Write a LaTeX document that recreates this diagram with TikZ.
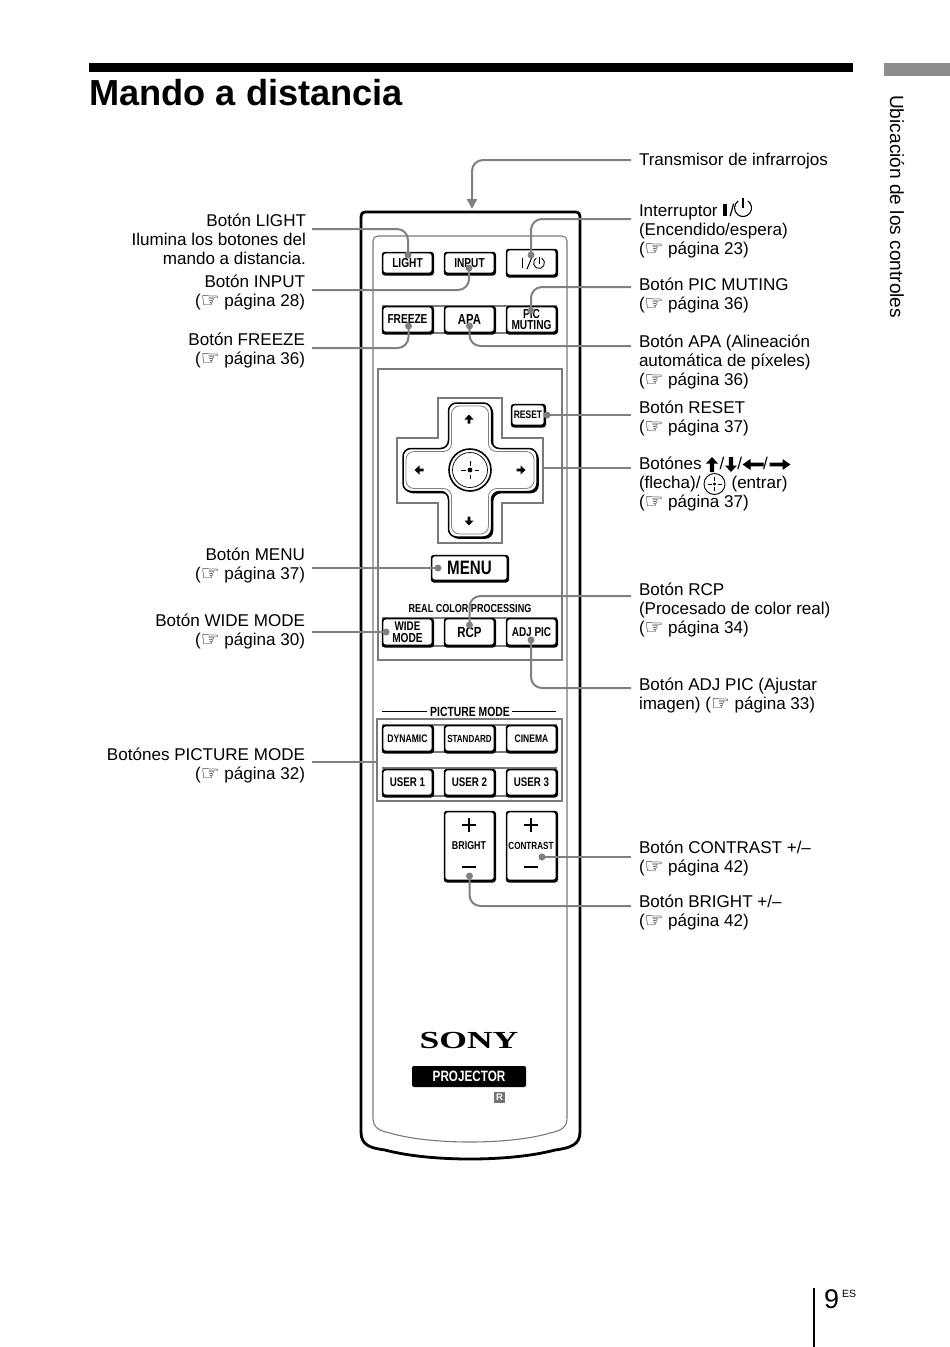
\documentclass[tikz,border=0pt]{standalone}
\usepackage{fontspec}
\setmainfont{Liberation Sans}
\newfontfamily\djvfont{DejaVu Sans}
\newfontfamily\condfont[FakeStretch=0.78]{Liberation Sans}
\newfontfamily\sonyfont[FakeStretch=1.45]{Liberation Serif}
\usetikzlibrary{arrows.meta}
\definecolor{conngray}{HTML}{808080}
\definecolor{linegray}{HTML}{7A7A7A}
\newcommand{\hand}{\smash{\raisebox{-1pt}{\djvfont\fontsize{21}{19}\selectfont ☞}}}
\newcommand{\bodyrule}{\rule{0pt}{14pt}}
\newcommand{\rbtn}[6]{%
  \fill[black,rounded corners=3] ({#2-0.2},{#3-0.2}) rectangle ({#4+1},{#5+1.5});
  \node[btn,minimum width={(#4-#2-1.4)*1pt},minimum height={(#5-#3-1.4)*1pt}] (#1) at ({(#2+#4)/2},{(#3+#5)/2}) {#6};}
\newcommand{\padarrow}[3]{\fill[shift={(#1,#2)},rotate=#3] (-4.5,0.5)--(0,-4.5)--(4.5,0.5)--(1.3,0.5)--(1.3,4.5)--(-1.3,4.5)--(-1.3,0.5)--cycle;}
\newcommand{\txtarrowv}[3]{\fill[shift={(#1,#2)},rotate=#3] (-6,-1)--(0,-7.5)--(6,-1)--(2.2,-1)--(2.2,7.5)--(-2.2,7.5)--(-2.2,-1)--cycle;}
\newcommand{\txtarrowh}[3]{\fill[shift={(#1,#2)},rotate=#3] (-5.5,-2.5)--(0,-10.5)--(5.5,-2.5)--(1.8,-2.5)--(1.8,10.5)--(-1.8,10.5)--(-1.8,-2.5)--cycle;}
\newcommand{\crossp}[2]{(-#1,-#2)--(#1,-#2)--(#1,-#1)--(#2,-#1)--(#2,#1)--(#1,#1)--(#1,#2)--(-#1,#2)--(-#1,#1)--(-#2,#1)--(-#2,-#1)--(-#1,-#1)--cycle}
\tikzset{
  lbl/.style={inner sep=0pt,outer sep=0pt,font=\fontsize{17.05}{19}\selectfont,execute at begin node=\bodyrule},
  rlabel/.style={lbl,anchor=north west,align=left},
  llabel/.style={lbl,anchor=north east,align=right},
  btn/.style={draw=black,line width=1.2pt,fill=white,rounded corners=3,inner sep=0pt,align=center,text=black,font=\condfont\bfseries\fontsize{13}{11.8}\selectfont},
  conn/.style={draw=conngray,line width=2pt,rounded corners=11},
  dot/.style={circle,fill=conngray,inner sep=0pt,minimum size=7pt},
  thin gray/.style={draw=linegray,line width=1.1pt},
  thick gray/.style={draw=linegray,line width=2.2pt},
}
\begin{document}
\begin{tikzpicture}[x=1pt,y=-1pt]
\useasboundingbox[fill=white] (0,0) rectangle (950,1347);
% page furniture
\fill[black] (89,63) rectangle (853,72);
\fill[black!45] (884,63) rectangle (950,76);
\node[inner sep=0,anchor=west,font=\bfseries\fontsize{36.2}{40}\selectfont] (title) at (89,93) {Mando a distancia};
\node[inner sep=0,rotate=-90,anchor=west,font=\fontsize{19.1}{20}\selectfont] (side) at (897,95) {Ubicación de los controles};
\draw[black,line width=1.2pt] (814,1288) -- (814,1347);
\node[inner sep=0,anchor=base west,font=\fontsize{27}{30}\selectfont] (pagenum) at (824,1308) {9};
\node[inner sep=0,anchor=base west,font=\fontsize{10.5}{12}\selectfont] (pagees) at (842,1297) {ES};
% remote body
\draw[black,line width=2.8pt] (361,218) .. controls (361,214) and (362,212) .. (366,212) -- (575,212) .. controls (579,212) and (580,214) .. (580,218) -- (580,1132) .. controls (580,1145) and (570,1148) .. (555,1150) .. controls (510,1162) and (430,1162) .. (385,1150) .. controls (370,1148) and (361,1145) .. (361,1132) -- cycle;
\draw[thin gray] (373,241) .. controls (373,238) and (375,236) .. (378,236) -- (562,236) .. controls (565,236) and (567,238) .. (567,241) -- (567,1118) .. controls (567,1128) and (560,1131) .. (550,1133) .. controls (510,1145) and (430,1145) .. (390,1133) .. controls (380,1131) and (373,1128) .. (373,1118) -- cycle;
\draw[thin gray] (378,369) rectangle (562,660);
\draw[thick gray] (377,719) rectangle (562,801);
% joining lines behind the buttons
\foreach \yy in {306,333,618,646,725,752,768,796} \draw[thin gray] (382,\yy) -- (557,\yy);
% top buttons
\rbtn{light}{382}{252}{433}{274}{LIGHT}
\rbtn{input}{444}{252}{495}{274}{INPUT}
\rbtn{power}{506}{249}{557}{276}{}
\draw[black,line width=1pt] (522.5,258) -- (522.5,268);
\draw[black,line width=1pt] (527,269) -- (532,257);
\draw[black,line width=0.9pt] (539,263) ++(-60:5.5) arc[start angle=-60,end angle=240,radius=5.5];
\draw[black,line width=0.9pt] (539,256.5) -- (539,263.5);
\rbtn{freeze}{382}{306}{433}{333}{FREEZE}
\rbtn{apa}{444}{306}{495}{333}{\fontsize{14.5}{12}\selectfont APA}
\rbtn{picmute}{506}{306}{557}{333}{PIC\\MUTING}
% d-pad
\draw[thick gray] (438,398) -- (502,398) -- (502,438) -- (543,438) -- (543,503) -- (502,503) -- (502,543) -- (438,543) -- (438,503) -- (397,503) -- (397,438) -- (438,438) -- cycle;
\rbtn{reset}{511}{404}{545}{426}{\fontsize{10.9}{11}\selectfont RESET}
\begin{scope}[shift={(470,470)},rounded corners=8]
\fill[black,shift={(1.8,1.8)}] \crossp{21.5}{67};
\draw[black,fill=white,line width=1.5pt] \crossp{21.5}{67};
\draw[black!50,line width=0.8pt] \crossp{18.5}{64};
\end{scope}
\draw[black,line width=1.6pt,fill=white] (470,470) circle[radius=21];
\draw[black,line width=0.7pt] (470,470) circle[radius=17.5];
\fill[black] (470,470) circle[radius=2.4];
\draw[black,line width=0.8pt] (461,470)--(465.5,470) (474.5,470)--(479,470) (470,461)--(470,465.5) (470,474.5)--(470,479);
\padarrow{469}{419}{0}
\padarrow{469}{521}{180}
\padarrow{419}{470}{90}
\padarrow{521}{470}{-90}
% menu
\rbtn{menu}{431}{555}{508}{581}{\fontsize{19.4}{18}\selectfont MENU}
% real colour processing
\node[inner sep=0,font=\condfont\bfseries\fontsize{11.6}{13}\selectfont] (rcptitle) at (470,608) {REAL COLOR PROCESSING};
\rbtn{wide}{382}{618}{433}{646}{\fontsize{12.6}{11.8}\selectfont WIDE\\MODE}
\rbtn{rcp}{444}{618}{495}{646}{\fontsize{14.7}{12}\selectfont RCP}
\rbtn{adjpic}{506}{618}{557}{646}{\fontsize{12.8}{11}\selectfont ADJ PIC}
% picture mode
\node[inner sep=0,font=\condfont\bfseries\fontsize{13.3}{12}\selectfont] (pmtitle) at (470,711.5) {PICTURE MODE};
\draw[black,line width=1pt] (382,711.5) -- (427,711.5) (512,711.5) -- (556,711.5);
\rbtn{dynamic}{382}{725}{433}{752}{\fontsize{11}{11}\selectfont DYNAMIC}
\rbtn{standard}{444}{725}{495}{752}{\fontsize{10.3}{11}\selectfont STANDARD}
\rbtn{cinema}{506}{725}{557}{752}{\fontsize{10.9}{11}\selectfont CINEMA}
\rbtn{userone}{382}{769}{433}{796}{\fontsize{12.5}{11}\selectfont USER 1}
\rbtn{usertwo}{444}{769}{495}{796}{\fontsize{12.5}{11}\selectfont USER 2}
\rbtn{userthree}{506}{769}{557}{796}{\fontsize{12.5}{11}\selectfont USER 3}
% bright / contrast
\rbtn{bright}{444}{811}{495}{881}{}
\rbtn{contrast}{506}{811}{557}{881}{}
\draw[black,line width=1.3pt] (462,825)--(476,825) (469,818)--(469,832) (462,867)--(476,867);
\draw[black,line width=1.3pt] (524,825)--(538,825) (531,818)--(531,832) (524,867)--(538,867);
\node[inner sep=0,font=\condfont\bfseries\fontsize{11.4}{12}\selectfont] (brighttxt) at (469,846) {BRIGHT};
\node[inner sep=0,font=\condfont\bfseries\fontsize{10.4}{12}\selectfont] (contrasttxt) at (531,846) {CONTRAST};
% logo
\node[inner sep=0,font=\sonyfont\bfseries\fontsize{24.5}{24}\selectfont] (sony) at (469,1040) {SONY};
\node[fill=black,text=white,rounded corners=2,minimum width=114pt,minimum height=21pt,inner sep=0,font=\condfont\bfseries\fontsize{15}{16}\selectfont] (projector) at (469,1076.5) {PROJECTOR};
\node[fill=black!55,text=white,minimum width=11pt,minimum height=11pt,inner sep=0,font=\bfseries\fontsize{9.5}{10}\selectfont] (rmark) at (499.5,1097.5) {R};
% labels, right
\node[rlabel] (tTrans) at (639,151) {Transmisor de infrarrojos};
\node[rlabel] (tPower) at (639,204) {Interruptor\hspace{12pt}/\hspace{14pt}\\(Encendido/espera)\\(\hand{} página 23)};
\node[rlabel] (tMute) at (639,278) {Botón PIC MUTING\\(\hand{} página 36)};
\node[rlabel] (tApa) at (639,335) {Botón APA (Alineación\\automática de píxeles)\\(\hand{} página 36)};
\node[rlabel] (tReset) at (639,401) {Botón RESET\\(\hand{} página 37)};
\node[rlabel] (tArrows) at (639,457) {Botónes\hspace{18pt}/\hspace{13pt}/\hspace{21pt}/\\(flecha)/\hspace{31pt}(entrar)\\(\hand{} página 37)};
\node[rlabel] (tRcp) at (639,583) {Botón RCP\\(Procesado de color real)\\(\hand{} página 34)};
\node[rlabel] (tAdj) at (639,678) {Botón ADJ PIC (Ajustar\\imagen) (\hand{} página 33)};
\node[rlabel] (tContrast) at (639,841) {Botón CONTRAST +/--\\(\hand{} página 42)};
\node[rlabel] (tBright) at (639,895) {Botón BRIGHT +/--\\(\hand{} página 42)};
% labels, left
\node[llabel] (tLight) at (306,214) {Botón LIGHT\\Ilumina los botones del\\mando a distancia.};
\node[llabel] (tInput) at (305,275) {Botón INPUT\\(\hand{} página 28)};
\node[llabel] (tFreeze) at (305,333) {Botón FREEZE\\(\hand{} página 36)};
\node[llabel] (tMenu) at (305,548) {Botón MENU\\(\hand{} página 37)};
\node[llabel] (tWide) at (305,614) {Botón WIDE MODE\\(\hand{} página 30)};
\node[llabel] (tPicture) at (305,748) {Botónes PICTURE MODE\\(\hand{} página 32)};
% inline icons of the labels
\fill[black] (723,204) rectangle (727,216);
\draw[black,line width=1.1pt] (743,208) ++(-55:8.5) arc[start angle=-55,end angle=235,radius=8.5];
\draw[black,line width=1.1pt] (743,198) -- (743,208);
\txtarrowv{712}{464.5}{0}
\txtarrowv{731}{464.5}{180}
\txtarrowh{753}{464.5}{90}
\txtarrowh{780}{464.5}{-90}
\draw[black,line width=0.9pt] (714.5,484) circle[radius=10.5];
\fill[black] (714.5,484) circle[radius=1.6];
\draw[black,line width=0.8pt] (707.5,484)--(711.5,484) (717.5,484)--(721.5,484) (714.5,477)--(714.5,481) (714.5,487)--(714.5,491);
% connector ends
\coordinate (sTrans) at (631,160);
\coordinate (eTrans) at (472,209);
\coordinate (sPower) at (631,219);
\coordinate (sMute) at (631,287);
\coordinate (sApa) at (631,346);
\coordinate (sReset) at (631,415);
\coordinate (sArrows) at (631,468);
\coordinate (eArrows) at (543,468);
\coordinate (sRcp) at (631,596);
\coordinate (sAdj) at (631,688);
\coordinate (sContrast) at (631,857);
\coordinate (sBright) at (631,906);
\coordinate (sLight) at (312,229);
\coordinate (sInput) at (312,290);
\coordinate (sFreeze) at (312,348);
\coordinate (sMenu) at (312,568);
\coordinate (sWide) at (312,632);
\coordinate (sPicture) at (312,762);
\coordinate (ePicture) at (377,762);
\node[dot] (dLight) at (408,255) {};
\node[dot] (dInput) at (469,268) {};
\node[dot] (dFreeze) at (408.5,326) {};
\node[dot] (dPower) at (531,255) {};
\node[dot] (dMute) at (531,311) {};
\node[dot] (dApa) at (469.5,326) {};
\node[dot] (dReset) at (547,415) {};
\node[dot] (dMenu) at (438,568) {};
\node[dot] (dWide) at (386,632) {};
\node[dot] (dRcp) at (469.5,625) {};
\node[dot] (dAdj) at (531,640) {};
\node[dot] (dContrast) at (542,857) {};
\node[dot] (dBright) at (469.5,876) {};
% connectors
\draw[conn,-{Triangle[length=10pt,width=10pt]},conngray] (sTrans) -| (eTrans);
\draw[conn] (sLight) -| (dLight.center);
\draw[conn] (sInput) -| (dInput.center);
\draw[conn] (sFreeze) -| (dFreeze.center);
\draw[conn] (sPower) -| (dPower.center);
\draw[conn] (sMute) -| (dMute.center);
\draw[conn] (sApa) -| (dApa.center);
\draw[conn] (sReset) -- (dReset.center);
\draw[conn] (sArrows) -- (eArrows);
\draw[conn] (sMenu) -- (dMenu.center);
\draw[conn] (sWide) -- (dWide.center);
\draw[conn] (sRcp) -| (dRcp.center);
\draw[conn] (sAdj) -| (dAdj.center);
\draw[conn] (sPicture) -- (ePicture);
\draw[conn] (sContrast) -- (dContrast.center);
\draw[conn] (sBright) -| (dBright.center);
\end{tikzpicture}
\end{document}
